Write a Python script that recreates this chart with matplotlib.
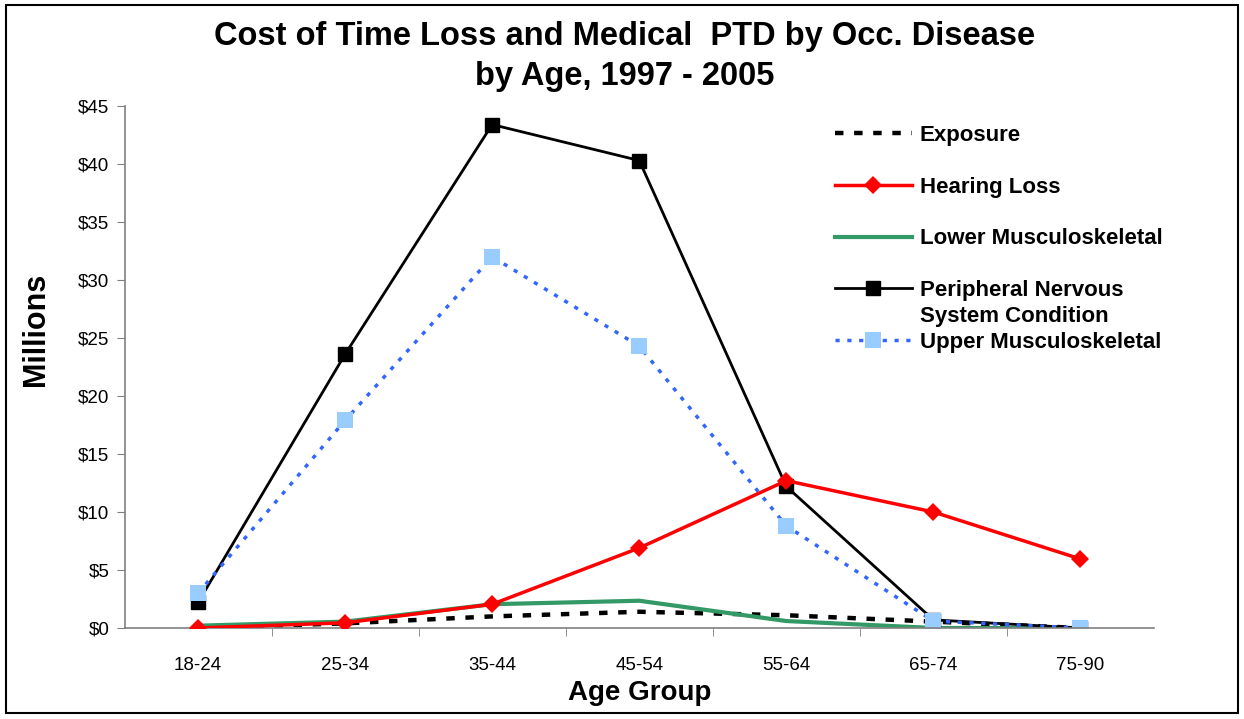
import matplotlib
matplotlib.use('Agg')
import matplotlib.pyplot as plt
from matplotlib.patches import Rectangle
from matplotlib.ticker import FuncFormatter, FixedLocator

plt.rcParams['font.family'] = ['Liberation Sans', 'DejaVu Sans']

# ---------- data (millions of $) ----------
age_groups = ['18-24', '25-34', '35-44', '45-54', '55-64', '65-74', '75-90']
exposure = [0.0, 0.4, 1.0, 1.4, 1.1, 0.55, 0.0]
hearing_loss = [0.0, 0.45, 2.05, 6.9, 12.7, 10.0, 5.95]
lower_musc = [0.2, 0.55, 2.05, 2.35, 0.6, 0.0, 0.0]
peripheral = [2.2, 23.6, 43.4, 40.3, 12.2, 0.7, 0.0]
upper_musc = [3.0, 17.9, 32.0, 24.3, 8.8, 0.6, 0.0]

W, H = 1244, 719
fig = plt.figure(figsize=(W / 100, H / 100), dpi=100)
ax = fig.add_axes([124.5 / W, 1 - 628 / H, 1029.5 / W, 522 / H])

x = list(range(len(age_groups)))

ax.plot(x, exposure, color='black', lw=3.2, dashes=(1.9, 2.4), label='Exposure')
ax.plot(x, hearing_loss, color='#FF0000', lw=2.5, marker='D', markersize=9,
        markeredgewidth=0, label='Hearing Loss', zorder=4)
ax.plot(x, lower_musc, color='#339966', lw=3, label='Lower Musculoskeletal')
ax.plot(x, peripheral, color='black', lw=2, marker='s', markersize=10,
        label='Peripheral Nervous')
ax.plot(x, upper_musc, color='#3366FF', lw=2.5, dashes=(1.2, 2.2), marker='s',
        markersize=11, markerfacecolor='#99CCFF', markeredgewidth=0,
        label='Upper Musculoskeletal')

ax.set_xlim(-0.5, len(age_groups) - 0.5)
ax.set_ylim(0, 45)
ax.set_xticks(x)
ax.set_xticklabels(age_groups, fontsize=13.5)
ax.xaxis.set_minor_locator(FixedLocator([i + 0.5 for i in range(len(age_groups) - 1)]))
ax.tick_params(axis='x', which='major', length=0, pad=21)
ax.tick_params(axis='x', which='minor', length=6, direction='out', color='#808080')
ax.set_yticks(range(0, 50, 5))
ax.yaxis.set_major_formatter(FuncFormatter(lambda v, p: f'${v:.0f}'))
ax.tick_params(axis='y', length=6, direction='out', color='#808080', labelsize=13.5, pad=5)

for s in ['top', 'right']:
    ax.spines[s].set_visible(False)
for s in ['left', 'bottom']:
    ax.spines[s].set_color('#808080')
    ax.spines[s].set_linewidth(1.2)

ax.set_xlabel('Age Group', fontsize=20, fontweight='bold', labelpad=4)
ax.set_ylabel('Millions', fontsize=22, fontweight='bold')
ax.yaxis.set_label_coords(-0.0714, 0.573)

fig.text(0.502, 1 - 36 / H, 'Cost of Time Loss and Medical  PTD by Occ. Disease',
         ha='center', va='center', fontsize=23.5, fontweight='bold')
fig.text(0.502, 1 - 76 / H, 'by Age, 1997 - 2005',
         ha='center', va='center', fontsize=23.5, fontweight='bold')

leg = ax.legend(loc='upper left', bbox_to_anchor=(835 / W, 1 - 125 / H),
                bbox_transform=fig.transFigure, frameon=False, borderpad=0,
                prop={'weight': 'bold', 'size': 16}, handlelength=3.45,
                handletextpad=0.36, labelspacing=1.38, borderaxespad=0)

fig.text(920 / W, 1 - 316 / H, 'System Condition', ha='left', va='center',
         fontsize=16, fontweight='bold')

fig.patches.append(Rectangle((6 / W, 6 / H), 1232 / W, 708 / H,
                             transform=fig.transFigure, fill=False,
                             edgecolor='black', lw=1.5))

fig.savefig('out.png', dpi=100)
